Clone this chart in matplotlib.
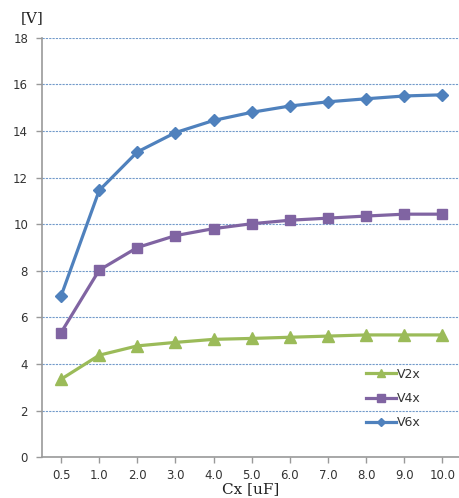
import matplotlib
matplotlib.use("Agg")
import matplotlib.pyplot as plt

categories = ["0.5", "1.0", "2.0", "3.0", "4.0", "5.0", "6.0", "7.0", "8.0", "9.0", "10.0"]
v2x = [3.35, 4.38, 4.78, 4.93, 5.06, 5.10, 5.15, 5.20, 5.25, 5.25, 5.25]
v4x = [5.35, 8.03, 9.00, 9.51, 9.81, 10.02, 10.17, 10.26, 10.35, 10.43, 10.43]
v6x = [6.92, 11.45, 13.10, 13.93, 14.45, 14.80, 15.07, 15.25, 15.38, 15.50, 15.55]
yticks = [0, 2, 4, 6, 8, 10, 12, 14, 16, 18]

fig = plt.figure(figsize=(4.59, 4.98), dpi=100)
ax = fig.add_axes([0.0915, 0.0817, 0.914, 0.8426])
x = list(range(len(categories)))

ax.plot(x, v2x, color="#9BBB59", lw=2.3, marker="^", ms=8, label="V2x", zorder=3)
ax.plot(x, v4x, color="#8064A2", lw=2.3, marker="s", ms=7.5, label="V4x", zorder=3)
ax.plot(x, v6x, color="#4F81BD", lw=2.3, marker="D", ms=6, label="V6x", zorder=3)

ax.set_xlim(-0.5, len(categories) - 0.5)
ax.set_ylim(0, 18)
ax.set_xticks(x)
ax.set_xticklabels(categories)
ax.set_yticks(yticks)
ax.tick_params(axis="both", labelsize=8.5, colors="#333333", length=4, color="#999999", width=1)
ax.tick_params(axis="x", pad=4.5)
ax.tick_params(axis="y", pad=6)
for s in ["top", "right"]:
    ax.spines[s].set_visible(False)
for s in ["left", "bottom"]:
    ax.spines[s].set_color("#999999")
    ax.spines[s].set_linewidth(1.2)
ax.yaxis.grid(True, color="#4F81BD", linestyle=(0, (2, 1)), linewidth=0.8, alpha=0.8)
ax.set_axisbelow(True)

fig.text(0.045, 0.963, "[V]", family="DejaVu Serif", fontsize=11, ha="left", va="center", color="#222222")
fig.text(0.545, 0.01, "Cx [uF]", family="DejaVu Serif", fontsize=11, ha="center", va="baseline", color="#222222")

leg = ax.legend(loc="lower right", bbox_to_anchor=(0.93, 0.04), frameon=False, fontsize=9,
                handlelength=2.4, labelspacing=0.9, handletextpad=0.1, markerscale=0.7)
for t in leg.get_texts():
    t.set_color("#333333")

fig.savefig("out.png", dpi=100)
